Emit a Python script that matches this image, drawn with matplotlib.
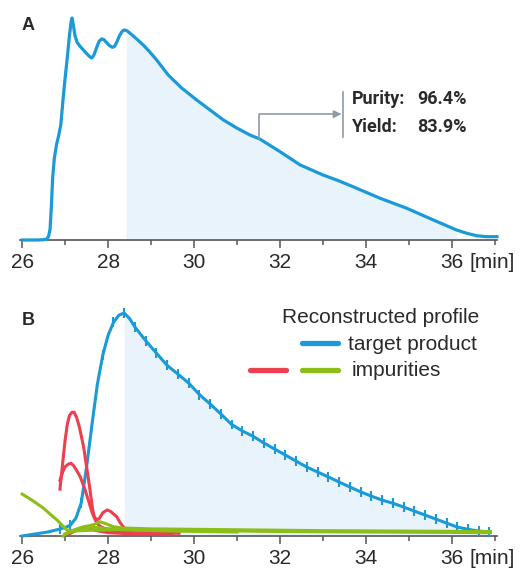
import numpy as np
import matplotlib
matplotlib.use("Agg")
import matplotlib.pyplot as plt
from matplotlib.lines import Line2D

# Data - panel A (measured chromatogram)
a_time = [26.0, 26.3, 26.5, 26.58, 26.62, 26.65, 26.68, 26.71, 26.75, 26.8, 26.85,
          26.9, 26.95, 27.0, 27.05, 27.1, 27.14, 27.16, 27.19, 27.23, 27.28, 27.35,
          27.43, 27.5, 27.57, 27.62, 27.67, 27.73, 27.79, 27.85, 27.9, 27.96, 28.03,
          28.1, 28.15, 28.2, 28.26, 28.32, 28.37, 28.42, 28.47, 28.55, 28.65, 28.82,
          28.97, 29.13, 29.4, 29.71, 30.06, 30.37, 30.68, 30.99, 31.3, 31.53, 32.0,
          32.47, 33.0, 33.35, 33.7, 34.33, 34.95, 35.57, 36.11, 36.35, 36.58, 36.8,
          37.05]
a_signal = [0.0, 0.0, 0.001, 0.005, 0.02, 0.05, 0.15, 0.28, 0.37, 0.43, 0.47,
            0.52, 0.63, 0.73, 0.82, 0.92, 0.985, 1.0, 0.97, 0.92, 0.89, 0.872,
            0.855, 0.84, 0.826, 0.82, 0.833, 0.865, 0.895, 0.906, 0.903, 0.89, 0.876,
            0.868, 0.872, 0.89, 0.918, 0.938, 0.946, 0.944, 0.938, 0.925, 0.908, 0.878,
            0.847, 0.811, 0.743, 0.685, 0.631, 0.586, 0.541, 0.505, 0.473, 0.455, 0.398,
            0.338, 0.293, 0.268, 0.240, 0.188, 0.143, 0.090, 0.045, 0.030, 0.019, 0.015,
            0.015]
cut_start = 28.4
cut_end = 36.12
purity = "96.4%"
yield_ = "83.9%"

# Data - panel B (reconstructed profiles)
tgt_time = [26.0, 26.3, 26.6, 26.875, 27.0, 27.125, 27.25, 27.375, 27.5, 27.625,
            27.75, 27.875, 28.0, 28.125, 28.25, 28.375, 28.5, 28.625, 28.875, 29.125,
            29.375, 29.625, 29.875, 30.125, 30.375, 30.625, 30.875, 31.125, 31.375,
            31.625, 31.875, 32.125, 32.375, 32.625, 32.875, 33.125, 33.375, 33.625,
            33.875, 34.125, 34.375, 34.625, 34.875, 35.125, 35.375, 35.625, 35.875,
            36.125, 36.375, 36.625, 36.875]
tgt_signal = [0.0, 0.009, 0.018, 0.031, 0.038, 0.049, 0.08, 0.148, 0.31, 0.50,
              0.68, 0.81, 0.90, 0.958, 0.99, 1.0, 0.975, 0.937, 0.876, 0.82,
              0.765, 0.726, 0.686, 0.634, 0.592, 0.547, 0.500, 0.471, 0.447,
              0.417, 0.390, 0.363, 0.336, 0.309, 0.287, 0.265, 0.242, 0.220,
              0.198, 0.179, 0.161, 0.147, 0.130, 0.112, 0.094, 0.076, 0.058,
              0.040, 0.030, 0.022, 0.018]
tgt_err = 0.022
err_start = 26.875
err_step = 0.25

imp_red = [
    ([26.88, 26.95, 27.0, 27.05, 27.1, 27.16, 27.21, 27.27, 27.33, 27.38, 27.43, 27.5,
      27.58, 27.64, 27.68, 27.74, 27.8, 27.88, 27.98, 28.06, 28.13, 28.2, 28.28, 28.36,
      28.45, 29.0, 29.65],
     [0.21, 0.34, 0.43, 0.50, 0.54, 0.555, 0.555, 0.53, 0.49, 0.445, 0.40, 0.31,
      0.206, 0.12, 0.085, 0.072, 0.08, 0.105, 0.117, 0.11, 0.098, 0.087, 0.06, 0.04,
      0.025, 0.015, 0.012]),
    ([26.88, 26.95, 27.0, 27.07, 27.14, 27.2, 27.28, 27.35, 27.45, 27.54, 27.62, 27.7,
      27.8, 27.95, 28.2, 28.6],
     [0.25, 0.29, 0.31, 0.322, 0.326, 0.315, 0.29, 0.266, 0.215, 0.161, 0.11, 0.072,
      0.045, 0.03, 0.02, 0.012]),
    ([27.1, 27.3, 27.5, 27.7, 28.0, 28.5, 29.5],
     [0.01, 0.03, 0.035, 0.025, 0.015, 0.01, 0.008]),
]
imp_green = [
    ([26.0, 26.25, 26.5, 26.7, 26.81, 26.92, 27.04, 27.2, 27.5, 28.0, 28.5, 30.0,
      32.0, 34.0, 36.9],
     [0.188, 0.158, 0.124, 0.09, 0.072, 0.05, 0.027, 0.022, 0.025, 0.028, 0.03, 0.025,
      0.02, 0.018, 0.015]),
    ([26.95, 27.1, 27.4, 27.65, 27.81, 27.95, 28.12, 28.33, 29.0, 31.0, 33.0, 35.0, 36.9],
     [0.0, 0.02, 0.04, 0.05, 0.064, 0.055, 0.042, 0.036, 0.032, 0.028, 0.024, 0.022, 0.02]),
    ([27.0, 27.3, 27.6, 27.9, 28.3, 29.5, 31.0],
     [0.01, 0.03, 0.04, 0.035, 0.028, 0.022, 0.018]),
]

# Setup/Config
BLUE = "#1a9ad6"
RED = "#ec3f50"
GREEN = "#8cbe1a"
FILL = "#e8f3fc"
GREY = "#8e9ba7"
TEXT = "#2a2a2a"
AXIS = "#555555"

plt.rcParams["font.family"] = ["Liberation Sans", "DejaVu Sans"]
plt.rcParams["font.size"] = 15
plt.rcParams["text.color"] = TEXT

W, H = 520, 569
XLIM = (25.95, 37.05)


def style_axis(ax):
    ax.set_xlim(*XLIM)
    ax.set_ylim(0, 1)
    for s in ["left", "right", "top"]:
        ax.spines[s].set_visible(False)
    ax.spines["bottom"].set_color(AXIS)
    ax.spines["bottom"].set_linewidth(1.2)
    ax.set_yticks([])
    ax.set_xticks([26, 28, 30, 32, 34, 36])
    ax.set_xticks([27, 29, 31, 33, 35, 37], minor=True)
    ax.tick_params(axis="x", which="major", length=6, width=1.1, color=AXIS,
                   pad=3, labelsize=15, labelcolor=TEXT)
    ax.tick_params(axis="x", which="minor", length=3.5, width=1.1, color=AXIS)
    ax.patch.set_alpha(0)
    ax.annotate("[min]", xy=(36.42, 0), xycoords=("data", "axes fraction"),
                xytext=(0, -9), textcoords="offset points", ha="left", va="top",
                fontsize=15, color=TEXT, annotation_clip=False)


fig = plt.figure(figsize=(W / 100, H / 100), dpi=100)

# Panel A
axA = fig.add_axes([20 / W, (H - 240) / H, 477 / W, 222 / H])
style_axis(axA)
ta = np.array(a_time)
sa = np.array(a_signal)
axA.fill_between(ta, sa, where=(ta >= cut_start) & (ta <= cut_end),
                 color=FILL, lw=0, zorder=1)
axA.plot(ta, sa, color=BLUE, lw=2.3, solid_joinstyle="round", zorder=3, clip_on=False)

# purity / yield annotation
axA.annotate("", xy=(33.43, 0.567), xytext=(31.5, 0.455),
             arrowprops=dict(arrowstyle="-|>", color=GREY, lw=1.2, mutation_scale=11,
                             shrinkA=0, shrinkB=0,
                             connectionstyle="angle,angleA=90,angleB=0,rad=0"))
axA.plot([33.47, 33.47], [0.464, 0.667], color=GREY, lw=1.2)
for label, value, y in [("Purity:", purity, 0.635), ("Yield:", yield_, 0.51)]:
    axA.text(33.67, y, label, family="Roboto", fontweight="bold", fontsize=13,
             va="center", ha="left")
    axA.text(35.2, y, value, family="Roboto", fontweight="bold", fontsize=13,
             va="center", ha="left")

# Panel B
axB = fig.add_axes([20 / W, (H - 536) / H, 477 / W, 223 / H])
style_axis(axB)
tb = np.array(tgt_time)
sb = np.array(tgt_signal)
axB.fill_between(tb, sb, where=tb >= cut_start - 0.03, color=FILL, lw=0, zorder=1)
axB.plot(tb, sb, color=BLUE, lw=2.2, solid_joinstyle="round", zorder=3, clip_on=False)
k = (tb - err_start) / err_step
m = (tb >= err_start) & np.isclose(k, np.round(k))
axB.errorbar(tb[m], sb[m], yerr=tgt_err, fmt="none", ecolor=BLUE, elinewidth=1.5,
             capsize=0, zorder=3, clip_on=False)
for t, s in imp_red:
    axB.plot(t, s, color=RED, lw=2.2, solid_joinstyle="round", zorder=4, clip_on=False)
for t, s in imp_green:
    axB.plot(t, s, color=GREEN, lw=2.2, solid_joinstyle="round", zorder=5, clip_on=False)

# Legend (drawn by hand)
fig.text(479 / W, 1 - 323 / H, "Reconstructed profile", ha="right", va="baseline",
         fontsize=15)
fig.add_artist(Line2D([302 / W, 338 / W], [1 - 343 / H] * 2, color=BLUE, lw=3.8,
                      solid_capstyle="round"))
fig.text(348 / W, 1 - 350 / H, "target product", ha="left", va="baseline", fontsize=15)
fig.add_artist(Line2D([250 / W, 286 / W], [1 - 370 / H] * 2, color=RED, lw=3.8,
                      solid_capstyle="round"))
fig.add_artist(Line2D([302 / W, 338 / W], [1 - 370 / H] * 2, color=GREEN, lw=3.8,
                      solid_capstyle="round"))
fig.text(352 / W, 1 - 376 / H, "impurities", ha="left", va="baseline", fontsize=15)

# Panel letters
fig.text(22 / W, 1 - 30 / H, "A", fontweight="bold", fontsize=13, va="baseline")
fig.text(22 / W, 1 - 325 / H, "B", fontweight="bold", fontsize=13, va="baseline")

fig.savefig("out.png", dpi=100)
